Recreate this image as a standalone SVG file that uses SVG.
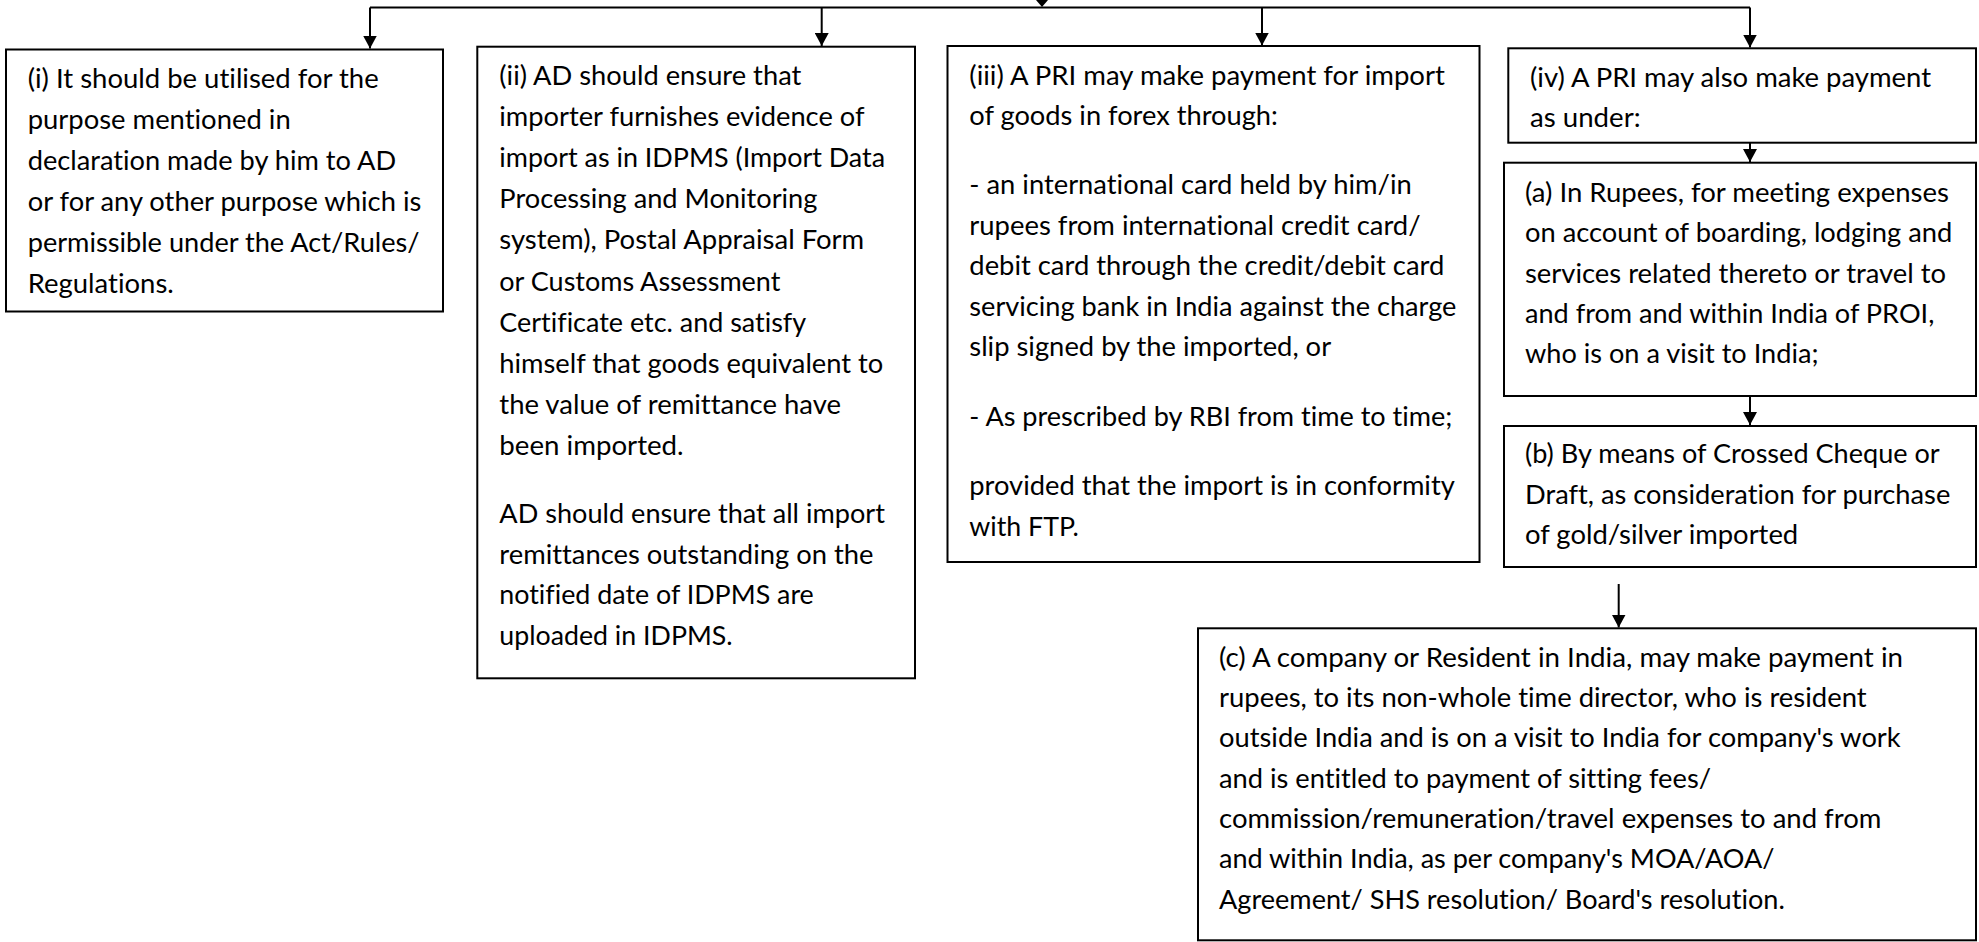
<svg xmlns="http://www.w3.org/2000/svg" width="1979" height="942" viewBox="0 0 1979 942">
<style>
.box{fill:#fff;stroke:#000;stroke-width:2}
text{font-family:Lato,"Liberation Sans",sans-serif;font-size:26.5px;fill:#000;font-variant-ligatures:none;font-feature-settings:"liga" 0,"dlig" 0}
.c{stroke:#000;stroke-width:2;fill:none}
</style>
<defs>
<marker id="ah" markerUnits="userSpaceOnUse" markerWidth="14" markerHeight="14" refX="13" refY="7" orient="auto" viewBox="0 0 14 14">
<path d="M0,0 L13,7 L0,14 z" fill="#000"/>
</marker>
</defs>
<rect width="1979" height="942" fill="#fff"/>
<g id="connectors">
<polygon points="1036,0 1048,0 1042,7" fill="#000"/>
<path class="c" d="M370,7.5 H1750"/>
<path class="c" d="M370,7.5 V48.5" marker-end="url(#ah)"/>
<path class="c" d="M821.7,7.5 V46" marker-end="url(#ah)"/>
<path class="c" d="M1262,7.5 V45.5" marker-end="url(#ah)"/>
<path class="c" d="M1750,7.5 V47.5" marker-end="url(#ah)"/>
<path class="c" d="M1750,136.7 V162" marker-end="url(#ah)"/>
<path class="c" d="M1750,388 V425" marker-end="url(#ah)"/>
<path class="c" d="M1618.7,584 V627.5" marker-end="url(#ah)"/>
</g>
<g id="node-i">
<rect class="box" x="6" y="49.5" width="437" height="262"/>
<text x="27.7" y="88" textLength="351" lengthAdjust="spacingAndGlyphs">(i) It should be utilised for the</text>
<text x="27.7" y="128.9" textLength="263" lengthAdjust="spacingAndGlyphs">purpose mentioned in</text>
<text x="27.7" y="169.8" textLength="368.4" lengthAdjust="spacingAndGlyphs">declaration made by him to AD</text>
<text x="27.7" y="210.7" textLength="393.6" lengthAdjust="spacingAndGlyphs">or for any other purpose which is</text>
<text x="27.7" y="251.6" textLength="391.9" lengthAdjust="spacingAndGlyphs">permissible under the Act/Rules/</text>
<text x="27.7" y="292.5" textLength="146.1" lengthAdjust="spacingAndGlyphs">Regulations.</text>
</g>
<g id="node-ii">
<rect class="box" x="477.3" y="46.7" width="437.7" height="631.6"/>
<text x="499.3" y="85" textLength="302" lengthAdjust="spacingAndGlyphs">(ii) AD should ensure that</text>
<text x="499.3" y="126.1" textLength="365.2" lengthAdjust="spacingAndGlyphs">importer furnishes evidence of</text>
<text x="499.3" y="167.2" textLength="385.8" lengthAdjust="spacingAndGlyphs">import as in IDPMS (Import Data</text>
<text x="499.3" y="208.3" textLength="318.1" lengthAdjust="spacingAndGlyphs">Processing and Monitoring</text>
<text x="499.3" y="249.4" textLength="364.9" lengthAdjust="spacingAndGlyphs">system), Postal Appraisal Form</text>
<text x="499.3" y="290.5" textLength="281.1" lengthAdjust="spacingAndGlyphs">or Customs Assessment</text>
<text x="499.3" y="331.6" textLength="306.9" lengthAdjust="spacingAndGlyphs">Certificate etc. and satisfy</text>
<text x="499.3" y="372.7" textLength="384" lengthAdjust="spacingAndGlyphs">himself that goods equivalent to</text>
<text x="499.3" y="413.8" textLength="341.7" lengthAdjust="spacingAndGlyphs">the value of remittance have</text>
<text x="499.3" y="454.9" textLength="184.3" lengthAdjust="spacingAndGlyphs">been imported.</text>
<text x="499.3" y="523.3" textLength="385.6" lengthAdjust="spacingAndGlyphs">AD should ensure that all import</text>
<text x="499.3" y="563.6" textLength="374.2" lengthAdjust="spacingAndGlyphs">remittances outstanding on the</text>
<text x="499.3" y="603.9" textLength="314.5" lengthAdjust="spacingAndGlyphs">notified date of IDPMS are</text>
<text x="499.3" y="644.5" textLength="233.3" lengthAdjust="spacingAndGlyphs">uploaded in IDPMS.</text>
</g>
<g id="node-iii">
<rect class="box" x="947.5" y="46" width="532" height="516"/>
<text x="969.3" y="85" textLength="475.6" lengthAdjust="spacingAndGlyphs">(iii) A PRI may make payment for import</text>
<text x="969.3" y="125" textLength="308.6" lengthAdjust="spacingAndGlyphs">of goods in forex through:</text>
<text x="969.3" y="194" textLength="442.5" lengthAdjust="spacingAndGlyphs">- an international card held by him/in</text>
<text x="969.3" y="234.5" textLength="451.3" lengthAdjust="spacingAndGlyphs">rupees from international credit card/</text>
<text x="969.3" y="275" textLength="475" lengthAdjust="spacingAndGlyphs">debit card through the credit/debit card</text>
<text x="969.3" y="315.5" textLength="487.1" lengthAdjust="spacingAndGlyphs">servicing bank in India against the charge</text>
<text x="969.3" y="356" textLength="361.8" lengthAdjust="spacingAndGlyphs">slip signed by the imported, or</text>
<text x="969.3" y="426" textLength="483.1" lengthAdjust="spacingAndGlyphs">- As prescribed by RBI from time to time;</text>
<text x="969.3" y="495" textLength="485.5" lengthAdjust="spacingAndGlyphs">provided that the import is in conformity</text>
<text x="969.3" y="535.5" textLength="109.4" lengthAdjust="spacingAndGlyphs">with FTP.</text>
</g>
<g id="node-iv">
<rect class="box" x="1508.3" y="48.3" width="467.7" height="94.4"/>
<text x="1530" y="87.3" textLength="401.1" lengthAdjust="spacingAndGlyphs">(iv) A PRI may also make payment</text>
<text x="1530" y="127" textLength="110.6" lengthAdjust="spacingAndGlyphs">as under:</text>
</g>
<g id="node-a">
<rect class="box" x="1504" y="162.7" width="472" height="233.3"/>
<text x="1525" y="201.7" textLength="423.9" lengthAdjust="spacingAndGlyphs">(a) In Rupees, for meeting expenses</text>
<text x="1525" y="242.1" textLength="427.4" lengthAdjust="spacingAndGlyphs">on account of boarding, lodging and</text>
<text x="1525" y="282.5" textLength="421.1" lengthAdjust="spacingAndGlyphs">services related thereto or travel to</text>
<text x="1525" y="322.9" textLength="409.3" lengthAdjust="spacingAndGlyphs">and from and within India of PROI,</text>
<text x="1525" y="363.3" textLength="293.5" lengthAdjust="spacingAndGlyphs">who is on a visit to India;</text>
</g>
<g id="node-b">
<rect class="box" x="1504" y="426" width="472" height="141"/>
<text x="1525" y="463.3" textLength="414.7" lengthAdjust="spacingAndGlyphs">(b) By means of Crossed Cheque or</text>
<text x="1525" y="503.6" textLength="425.3" lengthAdjust="spacingAndGlyphs">Draft, as consideration for purchase</text>
<text x="1525" y="543.9" textLength="273.2" lengthAdjust="spacingAndGlyphs">of gold/silver imported</text>
</g>
<g id="node-c">
<rect class="box" x="1198" y="628.3" width="778" height="312"/>
<text x="1219" y="666.7" textLength="684" lengthAdjust="spacingAndGlyphs">(c) A company or Resident in India, may make payment in</text>
<text x="1219" y="707" textLength="647.6" lengthAdjust="spacingAndGlyphs">rupees, to its non-whole time director, who is resident</text>
<text x="1219" y="747.3" textLength="681.7" lengthAdjust="spacingAndGlyphs">outside India and is on a visit to India for company's work</text>
<text x="1219" y="787.6" textLength="492" lengthAdjust="spacingAndGlyphs">and is entitled to payment of sitting fees/</text>
<text x="1219" y="827.9" textLength="662.4" lengthAdjust="spacingAndGlyphs">commission/remuneration/travel expenses to and from</text>
<text x="1219" y="868.2" textLength="555.5" lengthAdjust="spacingAndGlyphs">and within India, as per company's MOA/AOA/</text>
<text x="1219" y="908.5" textLength="565.8" lengthAdjust="spacingAndGlyphs">Agreement/ SHS resolution/ Board's resolution.</text>
</g>
</svg>
